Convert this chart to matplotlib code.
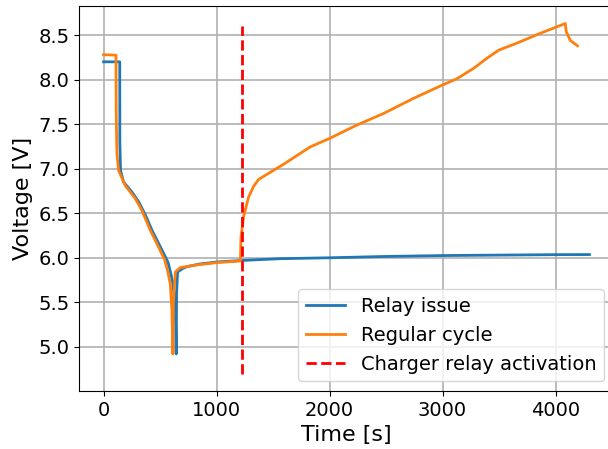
import numpy as np
import matplotlib
matplotlib.use("Agg")
import matplotlib.pyplot as plt

# relay issue (blue)
t_relay = [0, 143, 144, 150, 177, 250, 310, 370, 428, 480, 531, 570, 596, 615, 626, 637, 643,
           646, 655, 700, 738, 850, 1003, 1225, 1564, 2000, 2500, 3000, 3500, 4000, 4300]
v_relay = [8.20, 8.20, 7.30, 6.98, 6.85, 6.74, 6.63, 6.48, 6.31, 6.18, 6.05, 5.95, 5.82, 5.70, 5.56, 5.30, 4.92,
           5.60, 5.84, 5.88, 5.90, 5.93, 5.953, 5.97, 5.99, 6.00, 6.015, 6.025, 6.03, 6.035, 6.036]

# regular cycle (orange)
t_reg = [0, 110, 112, 118, 133, 192, 281, 340, 413, 460, 502, 540, 566, 590, 605, 614,
         618, 635, 679, 826, 1003, 1211, 1216, 1239, 1283, 1327, 1372, 1593, 1829, 2000,
         2242, 2478, 2743, 3000, 3127, 3274, 3393, 3496, 3658, 3865, 4086, 4095, 4130, 4195]
v_reg = [8.28, 8.275, 7.60, 7.17, 6.98, 6.81, 6.665, 6.53, 6.31, 6.19, 6.08, 5.98, 5.86, 5.71, 5.41, 4.92,
         5.50, 5.84, 5.89, 5.92, 5.946, 5.964, 6.23, 6.46, 6.68, 6.80, 6.88, 7.05, 7.245, 7.34,
         7.49, 7.62, 7.79, 7.94, 8.01, 8.126, 8.24, 8.33, 8.41, 8.52, 8.63, 8.54, 8.44, 8.38]

t_charger = 1222
v_charger = (4.70, 8.60)

plt.rcParams["font.size"] = 14
fig = plt.figure(figsize=(6.08, 4.49), dpi=100)
ax = fig.add_axes([0.1304, 0.129, 0.879, 0.8576])

ax.plot(t_relay, v_relay, color="C0", lw=2, label="Relay issue")
ax.plot(t_reg, v_reg, color="C1", lw=2, label="Regular cycle")
ax.vlines(t_charger, v_charger[0], v_charger[1], colors="r", linestyles="--", lw=2,
          label="Charger relay activation")

ax.set_xlabel("Time [s]", fontsize=16)
ax.set_ylabel("Voltage [V]", fontsize=16)
ax.grid(True, lw=1.2)
ax.legend(loc="lower right", fontsize=14)

fig.savefig("out.png", dpi=100)
